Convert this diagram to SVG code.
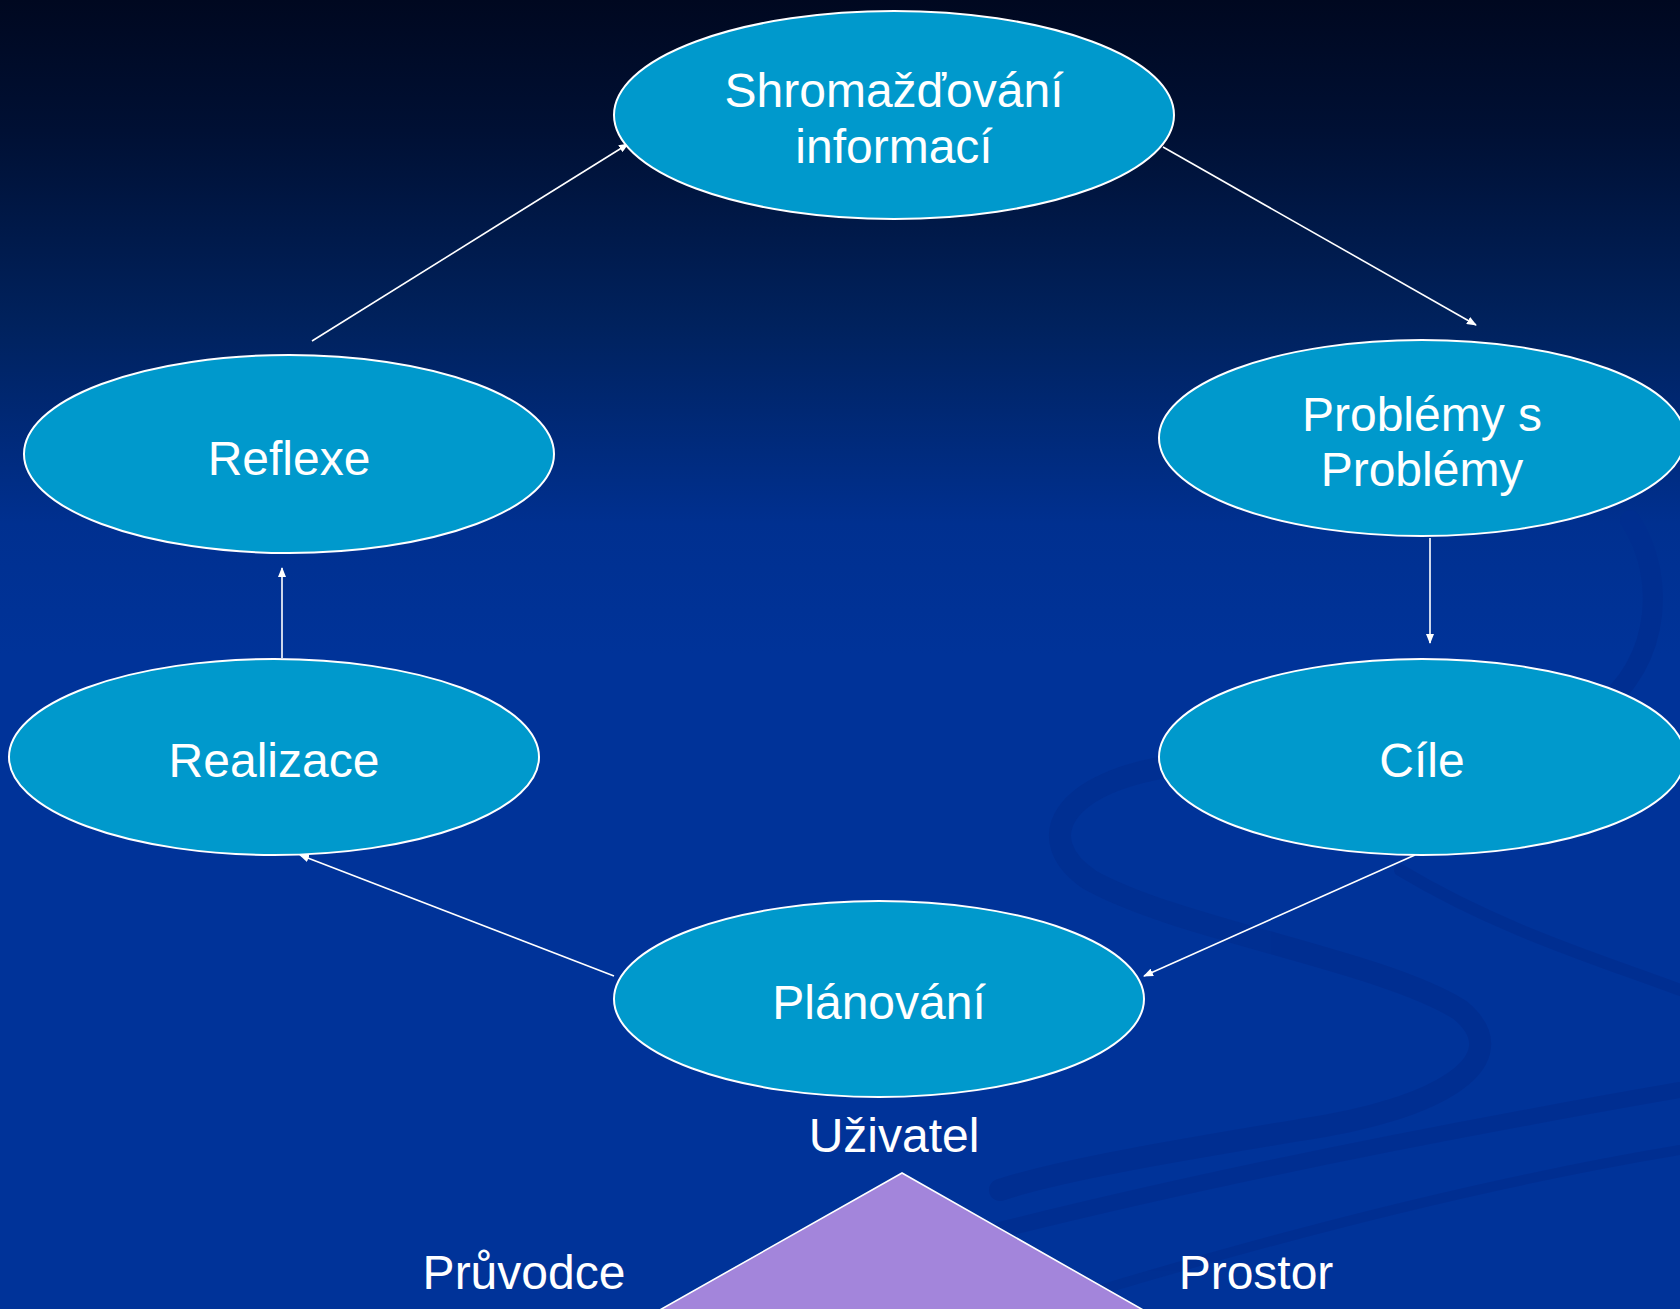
<svg xmlns="http://www.w3.org/2000/svg" width="1680" height="1309" viewBox="0 0 1680 1309">
<defs>
<linearGradient id="bg" x1="0" y1="0" x2="0" y2="1309" gradientUnits="userSpaceOnUse">
<stop offset="0" stop-color="#000820"/>
<stop offset="0.1" stop-color="#001034"/>
<stop offset="0.25" stop-color="#00225e"/>
<stop offset="0.4" stop-color="#003090"/>
<stop offset="0.5" stop-color="#003399"/>
<stop offset="1" stop-color="#003399"/>
</linearGradient>
<marker id="arr" markerWidth="10" markerHeight="8" refX="9" refY="4" orient="auto" markerUnits="userSpaceOnUse">
<path d="M0,0 L10,4 L0,8 Z" fill="#ffffff"/>
</marker>
<style>
.node{fill:#0099CC;stroke:#ffffff;stroke-width:2}
.lbl{font-family:"Liberation Sans",Arial,sans-serif;font-size:48px;fill:#ffffff;text-anchor:middle}
.conn{stroke:#ffffff;stroke-width:1.6;fill:none}
.sw{fill:none;stroke:#002e90;stroke-linecap:round}
</style>
</defs>
<rect x="0" y="0" width="1680" height="1309" fill="url(#bg)"/>
<g id="decor" opacity="0.8">
<path class="sw" stroke-width="20" d="M1630,520 C1670,580 1660,680 1580,720"/>
<path class="sw" stroke-width="22" d="M1180,765 C1060,780 1030,840 1090,880 C1180,930 1380,960 1460,1010 C1520,1060 1440,1110 1300,1130 C1180,1150 1060,1170 1000,1190"/>
<path class="sw" stroke-width="12" d="M1400,870 C1500,930 1600,960 1680,990"/>
<path class="sw" stroke-width="16" d="M1000,1230 C1200,1180 1450,1130 1680,1090"/>
<path class="sw" stroke-width="10" d="M1100,1290 C1300,1230 1500,1180 1680,1150"/>
</g>
<g id="connectors">
<line class="conn" x1="312" y1="341" x2="628" y2="144" marker-end="url(#arr)"/>
<line class="conn" x1="1163" y1="147" x2="1476" y2="325" marker-end="url(#arr)"/>
<line class="conn" x1="1430" y1="538" x2="1430" y2="643" marker-end="url(#arr)"/>
<line class="conn" x1="1415" y1="855" x2="1144" y2="976" marker-end="url(#arr)"/>
<line class="conn" x1="614" y1="976" x2="300" y2="855" marker-end="url(#arr)"/>
<line class="conn" x1="282" y1="658" x2="282" y2="568" marker-end="url(#arr)"/>
</g>
<g id="n-shromazdovani">
<ellipse class="node" cx="894" cy="115" rx="280" ry="104"/>
<text class="lbl" x="894" y="107">Shromažďování</text>
<text class="lbl" x="894" y="163">informací</text>
</g>
<g id="n-problemy">
<ellipse class="node" cx="1422" cy="438" rx="263" ry="98"/>
<text class="lbl" x="1422" y="431">Problémy s</text>
<text class="lbl" x="1422" y="486">Problémy</text>
</g>
<g id="n-cile">
<ellipse class="node" cx="1422" cy="757" rx="263" ry="98"/>
<text class="lbl" x="1422" y="777">Cíle</text>
</g>
<g id="n-reflexe">
<ellipse class="node" cx="289" cy="454" rx="265" ry="99"/>
<text class="lbl" x="289" y="475">Reflexe</text>
</g>
<g id="n-realizace">
<ellipse class="node" cx="274" cy="757" rx="265" ry="98"/>
<text class="lbl" x="274" y="777">Realizace</text>
</g>
<g id="n-planovani">
<ellipse class="node" cx="879" cy="999" rx="265" ry="98"/>
<text class="lbl" x="879" y="1019">Plánování</text>
</g>
<g id="triangle">
<polygon points="902,1173 658,1311 1145,1311" fill="#A385DB" stroke="#ffffff" stroke-width="1.6"/>
<text class="lbl" x="894" y="1152">Uživatel</text>
<text class="lbl" x="524" y="1289">Průvodce</text>
<text class="lbl" x="1256" y="1289">Prostor</text>
</g>
</svg>
